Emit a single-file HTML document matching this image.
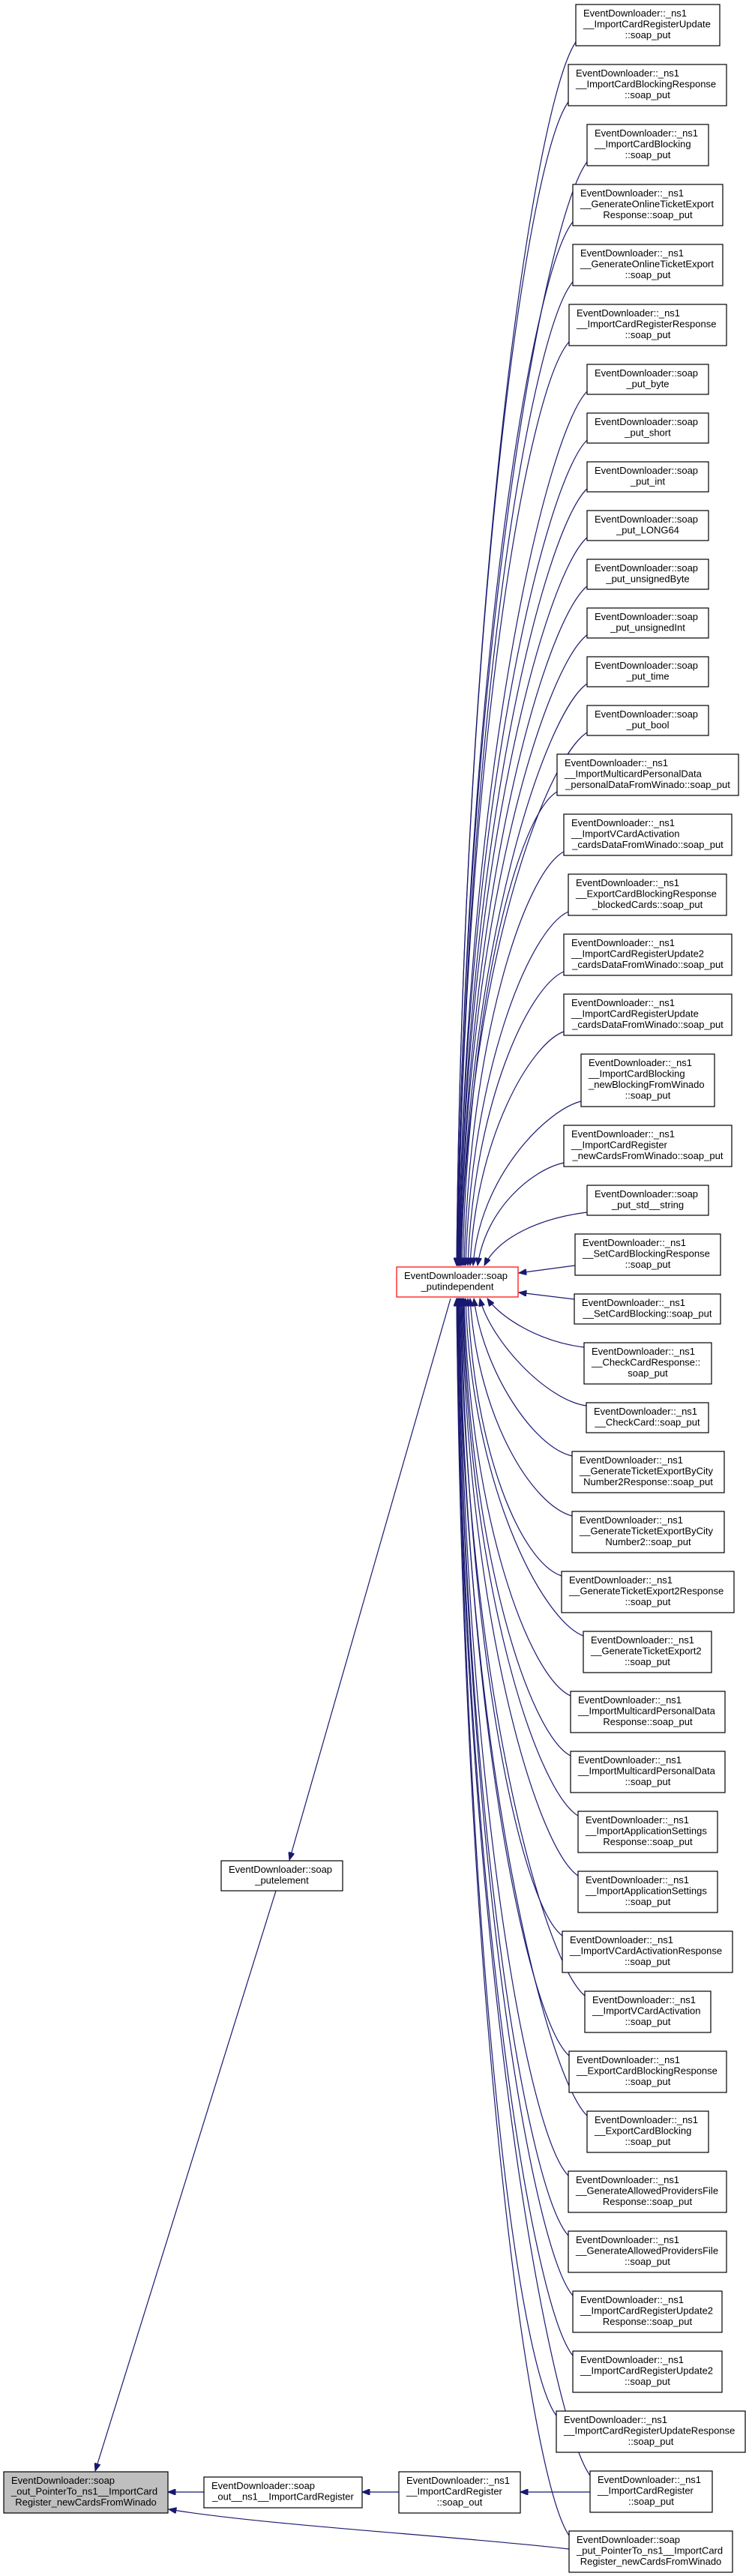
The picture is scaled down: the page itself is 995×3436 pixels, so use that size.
<!DOCTYPE html>
<html><head><meta charset="utf-8">
<style>
html,body{margin:0;padding:0;background:#fff;}
svg{display:block;}
text{font-family:"Liberation Sans",Arial,sans-serif;font-size:13px;fill:#000;}
.m{text-anchor:middle;}
rect{fill:#fff;stroke:#000;stroke-width:1.2;}
path.e{fill:none;stroke:#191970;stroke-width:1.2;}
</style></head><body>
<svg width="995" height="3436" viewBox="0 0 995 3436" xmlns="http://www.w3.org/2000/svg">
<defs>
<marker id="a" viewBox="0 0 10 8" refX="10" refY="4" markerWidth="11" markerHeight="8" markerUnits="userSpaceOnUse" orient="auto">
<path d="M0,0 L10,4 L0,8 z" fill="#191970" stroke="#191970"/>
</marker>
</defs>
<g marker-end="url(#a)">
<path class="e" d="M768,56 C712,138 617,790 609,1688"/>
<path class="e" d="M758,136 C702,214 617,834 609,1688"/>
<path class="e" d="M783,216 C727,290 618,878 610,1688"/>
<path class="e" d="M764,296 C708,366 618,922 610,1688"/>
<path class="e" d="M764,376 C708,442 619,966 611,1688"/>
<path class="e" d="M759,456 C703,518 619,1010 611,1688"/>
<path class="e" d="M783,522 C727,580 620,1047 612,1688"/>
<path class="e" d="M783,587 C727,642 620,1082 612,1688"/>
<path class="e" d="M783,652 C727,704 621,1118 613,1688"/>
<path class="e" d="M783,717 C727,766 621,1154 613,1688"/>
<path class="e" d="M783,782 C727,827 622,1190 614,1688"/>
<path class="e" d="M783,847 C727,889 622,1225 614,1688"/>
<path class="e" d="M783,912 C727,951 623,1261 615,1688"/>
<path class="e" d="M783,977 C727,1013 623,1297 615,1688"/>
<path class="e" d="M743,1056 C690,1088 625,1340 617,1688"/>
<path class="e" d="M752,1136 C700,1164 627,1384 619,1688"/>
<path class="e" d="M758,1216 C706,1240 629,1428 621,1688"/>
<path class="e" d="M752,1296 C705,1316 632,1472 624,1688"/>
<path class="e" d="M752,1376 C708,1392 635,1516 627,1688"/>
<path class="e" d="M775,1469 C730,1480 640,1568 631,1688"/>
<path class="e" d="M752,1551 C710,1560 648,1612 637,1688"/>
<path class="e" d="M783,1617 C720,1625 665,1650 646,1688"/>
<path class="e" d="M767,1688 L692,1698"/>
<path class="e" d="M766,1733 L692,1724"/>
<path class="e" d="M779,1797 C720,1790 668,1758 650,1732"/>
<path class="e" d="M782,1875 C730,1868 655,1790 640,1732"/>
<path class="e" d="M763,1942 C712,1931 645,1830 632,1732"/>
<path class="e" d="M763,2022 C710,2008 637,1892 627,1732"/>
<path class="e" d="M749,2102 C695,2084 632,1936 624,1732"/>
<path class="e" d="M778,2182 C722,2160 629,1980 621,1732"/>
<path class="e" d="M761,2262 C705,2236 627,2024 619,1732"/>
<path class="e" d="M761,2342 C705,2312 626,2068 618,1732"/>
<path class="e" d="M771,2422 C715,2388 625,2112 617,1732"/>
<path class="e" d="M771,2502 C715,2464 624,2156 616,1732"/>
<path class="e" d="M750,2582 C694,2540 623,2200 615,1732"/>
<path class="e" d="M780,2662 C724,2616 622,2244 614,1732"/>
<path class="e" d="M759,2742 C703,2692 621,2288 613,1732"/>
<path class="e" d="M783,2822 C727,2768 620,2332 612,1732"/>
<path class="e" d="M758,2902 C702,2844 620,2376 612,1732"/>
<path class="e" d="M758,2982 C702,2920 619,2420 611,1732"/>
<path class="e" d="M764,3062 C708,2996 619,2464 611,1732"/>
<path class="e" d="M764,3142 C708,3072 618,2508 610,1732"/>
<path class="e" d="M742,3222 C686,3148 618,2552 610,1732"/>
<path class="e" d="M787,3302 C731,3224 617,2596 609,1732"/>
<path class="e" d="M759,3382 C703,3300 617,2640 609,1732"/>
<path class="e" d="M601,1732 L386,2481"/>
<path class="e" d="M368,2522 L127,3296"/>
<path class="e" d="M787,3324 L694,3324"/>
<path class="e" d="M532,3324 L483,3324"/>
<path class="e" d="M272,3324 L224,3324"/>
<path class="e" d="M759,3400 C600,3382 350,3368 225,3347"/>
</g>

<!-- right column nodes -->
<rect x="768" y="6" width="192" height="55"/><text x="778" y="22">EventDownloader::_ns1</text><text x="778" y="36.5">__ImportCardRegisterUpdate</text><text class="m" x="864" y="51">::soap_put</text>
<rect x="758" y="86" width="211" height="55"/><text x="768" y="102">EventDownloader::_ns1</text><text x="768" y="116.5">__ImportCardBlockingResponse</text><text class="m" x="863.5" y="131">::soap_put</text>
<rect x="783" y="166" width="162" height="55"/><text x="793" y="182">EventDownloader::_ns1</text><text x="793" y="196.5">__ImportCardBlocking</text><text class="m" x="864" y="211">::soap_put</text>
<rect x="764" y="246" width="200" height="55"/><text x="774" y="262">EventDownloader::_ns1</text><text x="774" y="276.5">__GenerateOnlineTicketExport</text><text class="m" x="864" y="291">Response::soap_put</text>
<rect x="764" y="326" width="200" height="55"/><text x="774" y="342">EventDownloader::_ns1</text><text x="774" y="356.5">__GenerateOnlineTicketExport</text><text class="m" x="864" y="371">::soap_put</text>
<rect x="759" y="406" width="210" height="55"/><text x="769" y="422">EventDownloader::_ns1</text><text x="769" y="436.5">__ImportCardRegisterResponse</text><text class="m" x="864" y="451">::soap_put</text>
<rect x="783" y="486" width="162" height="40"/><text x="793" y="502">EventDownloader::soap</text><text class="m" x="864" y="516.5">_put_byte</text>
<rect x="783" y="551" width="162" height="40"/><text x="793" y="567">EventDownloader::soap</text><text class="m" x="864" y="581.5">_put_short</text>
<rect x="783" y="616" width="162" height="40"/><text x="793" y="632">EventDownloader::soap</text><text class="m" x="864" y="646.5">_put_int</text>
<rect x="783" y="681" width="162" height="40"/><text x="793" y="697">EventDownloader::soap</text><text class="m" x="864" y="711.5">_put_LONG64</text>
<rect x="783" y="746" width="162" height="40"/><text x="793" y="762">EventDownloader::soap</text><text class="m" x="864" y="776.5">_put_unsignedByte</text>
<rect x="783" y="811" width="162" height="40"/><text x="793" y="827">EventDownloader::soap</text><text class="m" x="864" y="841.5">_put_unsignedInt</text>
<rect x="783" y="876" width="162" height="40"/><text x="793" y="892">EventDownloader::soap</text><text class="m" x="864" y="906.5">_put_time</text>
<rect x="783" y="941" width="162" height="40"/><text x="793" y="957">EventDownloader::soap</text><text class="m" x="864" y="971.5">_put_bool</text>
<rect x="743" y="1006" width="242" height="55"/><text x="753" y="1022">EventDownloader::_ns1</text><text x="753" y="1036.5">__ImportMulticardPersonalData</text><text class="m" x="864" y="1051">_personalDataFromWinado::soap_put</text>
<rect x="752" y="1086" width="224" height="55"/><text x="762" y="1102">EventDownloader::_ns1</text><text x="762" y="1116.5">__ImportVCardActivation</text><text class="m" x="864" y="1131">_cardsDataFromWinado::soap_put</text>
<rect x="758" y="1166" width="211" height="55"/><text x="768" y="1182">EventDownloader::_ns1</text><text x="768" y="1196.5">__ExportCardBlockingResponse</text><text class="m" x="863.5" y="1211">_blockedCards::soap_put</text>
<rect x="752" y="1246" width="224" height="55"/><text x="762" y="1262">EventDownloader::_ns1</text><text x="762" y="1276.5">__ImportCardRegisterUpdate2</text><text class="m" x="864" y="1291">_cardsDataFromWinado::soap_put</text>
<rect x="752" y="1326" width="224" height="55"/><text x="762" y="1342">EventDownloader::_ns1</text><text x="762" y="1356.5">__ImportCardRegisterUpdate</text><text class="m" x="864" y="1371">_cardsDataFromWinado::soap_put</text>
<rect x="775" y="1406" width="178" height="70"/><text x="785" y="1422">EventDownloader::_ns1</text><text x="785" y="1436.5">__ImportCardBlocking</text><text x="785" y="1451">_newBlockingFromWinado</text><text class="m" x="864" y="1465.5">::soap_put</text>
<rect x="752" y="1501" width="224" height="55"/><text x="762" y="1517">EventDownloader::_ns1</text><text x="762" y="1531.5">__ImportCardRegister</text><text class="m" x="864" y="1546">_newCardsFromWinado::soap_put</text>
<rect x="783" y="1581" width="162" height="40"/><text x="793" y="1597">EventDownloader::soap</text><text class="m" x="864" y="1611.5">_put_std__string</text>
<rect x="767" y="1646" width="194" height="55"/><text x="777" y="1662">EventDownloader::_ns1</text><text x="777" y="1676.5">__SetCardBlockingResponse</text><text class="m" x="864" y="1691">::soap_put</text>
<rect x="766" y="1726" width="195" height="40"/><text x="776" y="1742">EventDownloader::_ns1</text><text class="m" x="863.5" y="1756.5">__SetCardBlocking::soap_put</text>
<rect x="779" y="1791" width="170" height="55"/><text x="789" y="1807">EventDownloader::_ns1</text><text x="789" y="1821.5">__CheckCardResponse::</text><text class="m" x="864" y="1836">soap_put</text>
<rect x="782" y="1871" width="163" height="40"/><text x="792" y="1887">EventDownloader::_ns1</text><text class="m" x="863.5" y="1901.5">__CheckCard::soap_put</text>
<rect x="763" y="1936" width="203" height="55"/><text x="773" y="1952">EventDownloader::_ns1</text><text x="773" y="1966.5">__GenerateTicketExportByCity</text><text class="m" x="864.5" y="1981">Number2Response::soap_put</text>
<rect x="763" y="2016" width="203" height="55"/><text x="773" y="2032">EventDownloader::_ns1</text><text x="773" y="2046.5">__GenerateTicketExportByCity</text><text class="m" x="864.5" y="2061">Number2::soap_put</text>
<rect x="749" y="2096" width="230" height="55"/><text x="759" y="2112">EventDownloader::_ns1</text><text x="759" y="2126.5">__GenerateTicketExport2Response</text><text class="m" x="864" y="2141">::soap_put</text>
<rect x="778" y="2176" width="171" height="55"/><text x="788" y="2192">EventDownloader::_ns1</text><text x="788" y="2206.5">__GenerateTicketExport2</text><text class="m" x="863.5" y="2221">::soap_put</text>
<rect x="761" y="2256" width="206" height="55"/><text x="771" y="2272">EventDownloader::_ns1</text><text x="771" y="2286.5">__ImportMulticardPersonalData</text><text class="m" x="864" y="2301">Response::soap_put</text>
<rect x="761" y="2336" width="206" height="55"/><text x="771" y="2352">EventDownloader::_ns1</text><text x="771" y="2366.5">__ImportMulticardPersonalData</text><text class="m" x="864" y="2381">::soap_put</text>
<rect x="771" y="2416" width="186" height="55"/><text x="781" y="2432">EventDownloader::_ns1</text><text x="781" y="2446.5">__ImportApplicationSettings</text><text class="m" x="864" y="2461">Response::soap_put</text>
<rect x="771" y="2496" width="186" height="55"/><text x="781" y="2512">EventDownloader::_ns1</text><text x="781" y="2526.5">__ImportApplicationSettings</text><text class="m" x="864" y="2541">::soap_put</text>
<rect x="750" y="2576" width="227" height="55"/><text x="760" y="2592">EventDownloader::_ns1</text><text x="760" y="2606.5">__ImportVCardActivationResponse</text><text class="m" x="863.5" y="2621">::soap_put</text>
<rect x="780" y="2656" width="168" height="55"/><text x="790" y="2672">EventDownloader::_ns1</text><text x="790" y="2686.5">__ImportVCardActivation</text><text class="m" x="864" y="2701">::soap_put</text>
<rect x="759" y="2736" width="210" height="55"/><text x="769" y="2752">EventDownloader::_ns1</text><text x="769" y="2766.5">__ExportCardBlockingResponse</text><text class="m" x="864" y="2781">::soap_put</text>
<rect x="783" y="2816" width="162" height="55"/><text x="793" y="2832">EventDownloader::_ns1</text><text x="793" y="2846.5">__ExportCardBlocking</text><text class="m" x="864" y="2861">::soap_put</text>
<rect x="758" y="2896" width="211" height="55"/><text x="768" y="2912">EventDownloader::_ns1</text><text x="768" y="2926.5">__GenerateAllowedProvidersFile</text><text class="m" x="863.5" y="2941">Response::soap_put</text>
<rect x="758" y="2976" width="211" height="55"/><text x="768" y="2992">EventDownloader::_ns1</text><text x="768" y="3006.5">__GenerateAllowedProvidersFile</text><text class="m" x="863.5" y="3021">::soap_put</text>
<rect x="764" y="3056" width="199" height="55"/><text x="774" y="3072">EventDownloader::_ns1</text><text x="774" y="3086.5">__ImportCardRegisterUpdate2</text><text class="m" x="863.5" y="3101">Response::soap_put</text>
<rect x="764" y="3136" width="199" height="55"/><text x="774" y="3152">EventDownloader::_ns1</text><text x="774" y="3166.5">__ImportCardRegisterUpdate2</text><text class="m" x="863.5" y="3181">::soap_put</text>
<rect x="742" y="3216" width="252" height="55"/><text x="752" y="3232">EventDownloader::_ns1</text><text x="752" y="3246.5">__ImportCardRegisterUpdateResponse</text><text class="m" x="868" y="3261">::soap_put</text>
<rect x="787" y="3296" width="163" height="55"/><text x="797" y="3312">EventDownloader::_ns1</text><text x="797" y="3326.5">__ImportCardRegister</text><text class="m" x="868.5" y="3341">::soap_put</text>
<rect x="759" y="3376" width="218" height="55"/><text x="769" y="3392">EventDownloader::soap</text><text x="769" y="3406.5">_put_PointerTo_ns1__ImportCard</text><text class="m" x="868" y="3421">Register_newCardsFromWinado</text>

<!-- middle nodes -->
<rect x="529" y="1690" width="162" height="40" style="stroke:#ff0000"/><text x="539" y="1706">EventDownloader::soap</text><text class="m" x="610" y="1720.5">_putindependent</text>
<rect x="295" y="2482" width="162" height="40"/><text x="305" y="2498">EventDownloader::soap</text><text class="m" x="376" y="2512.5">_putelement</text>
<rect x="532" y="3297" width="162" height="55"/><text x="542" y="3313">EventDownloader::_ns1</text><text x="542" y="3327.5">__ImportCardRegister</text><text class="m" x="613" y="3342">::soap_out</text>
<rect x="272" y="3304" width="211" height="41"/><text x="282" y="3320">EventDownloader::soap</text><text class="m" x="377.5" y="3334.5">_out__ns1__ImportCardRegister</text>
<rect x="5" y="3297" width="219" height="55" style="fill:#bfbfbf"/><text x="15" y="3313">EventDownloader::soap</text><text x="15" y="3327.5">_out_PointerTo_ns1__ImportCard</text><text class="m" x="114.5" y="3342">Register_newCardsFromWinado</text>
</svg>
</body></html>
